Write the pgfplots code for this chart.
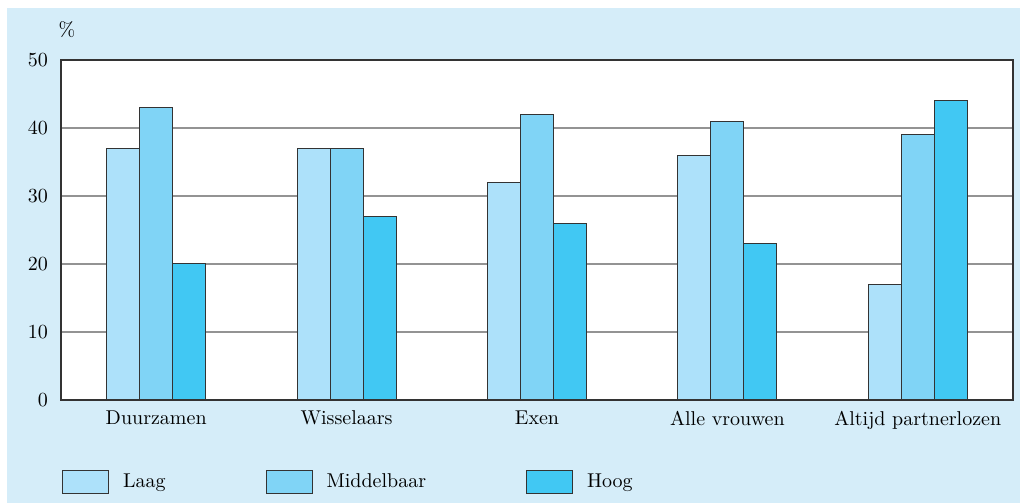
\documentclass[border=0pt]{standalone}
\usepackage{fontspec}
\usepackage{pgfplots}
\pgfplotsset{compat=1.18}
\definecolor{bg}{HTML}{D5EDF9}
\definecolor{laag}{HTML}{ADE1FA}
\definecolor{midd}{HTML}{80D4F6}
\definecolor{hoog}{HTML}{41C8F3}
\definecolor{edge}{HTML}{333333}
\definecolor{gridc}{HTML}{939393}
\begin{document}
\fontsize{10}{12}\selectfont
\begin{tikzpicture}
\path[use as bounding box] (-30.5pt,-51.5pt) rectangle (482pt,200pt);
\fill[bg] (-27pt,-51.5pt) rectangle (479.5pt,196pt);
\begin{axis}[
  scale only axis,
  width=476pt, height=170pt,
  axis background/.style={fill=white},
  ybar=0pt, bar width=16.5pt,
  xmin=-0.5, xmax=4.5,
  ymin=0, ymax=50,
  xtick=data,
  xticklabels={Duurzamen,Wisselaars,Exen,Alle vrouwen,Altijd partnerlozen},
  ytick={0,10,20,30,40,50},
  major tick length=0pt,
  ymajorgrids,
  grid style={gridc, line width=0.65pt},
  axis line style={edge, line width=0.6pt},
  /pgf/number format/assume math mode=true,
  yticklabel style={xshift=-3pt},
  xticklabel style={yshift=-2pt},
  legend columns=3,
  legend cell align=left,
  legend image code/.code={\draw[#1] (0pt,-5.75pt) rectangle (23pt,5.75pt);},
  legend style={draw=none, fill=none, at={(0,0)}, anchor=west,
    xshift=0.35pt, yshift=-41.25pt, inner sep=0pt,
    /tikz/every even column/.append style={column sep=43pt},
    nodes={inner xsep=7pt, inner ysep=3pt}},
  every axis plot/.append style={draw=edge, line width=0.5pt},
]
\addplot[fill=laag] coordinates {(0,37) (1,37) (2,32) (3,36) (4,17)};
\addplot[fill=midd] coordinates {(0,43) (1,37) (2,42) (3,41) (4,39)};
\addplot[fill=hoog] coordinates {(0,20) (1,27) (2,26) (3,23) (4,44)};
\legend{Laag,Middelbaar,Hoog}
\end{axis}
\node at (3pt,185pt) {\%};
\end{tikzpicture}
\end{document}
